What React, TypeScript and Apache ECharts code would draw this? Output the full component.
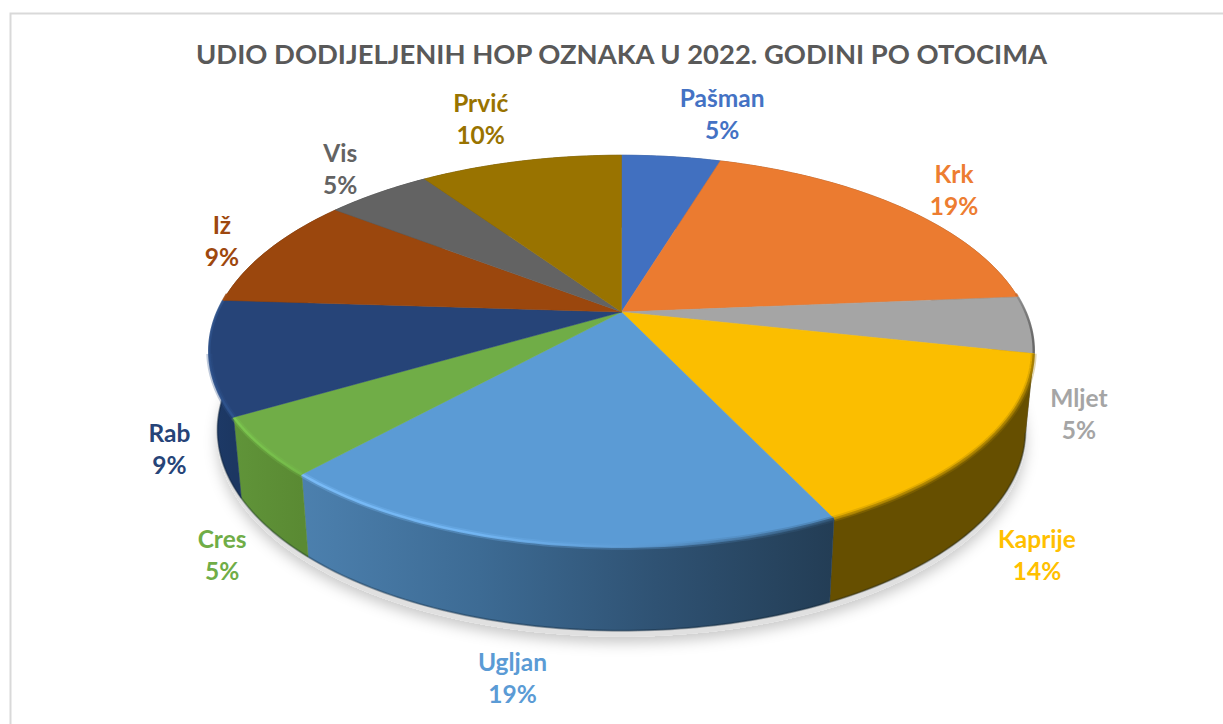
import React, { useEffect, useRef } from "react";
import * as echarts from "echarts";

const titleText = "UDIO DODIJELJENIH HOP OZNAKA U 2022. GODINI PO OTOCIMA";
const islands = ["Pašman", "Krk", "Mljet", "Kaprije", "Ugljan", "Cres", "Rab", "Iž", "Vis", "Prvić"];
const shares = [4.7, 19.0, 4.7, 14.5, 18.9, 4.8, 9.4, 9.4, 5.0, 9.6];
const topColors = ["#4170c0", "#eb7b30", "#a5a5a5", "#fbbe00", "#5b9bd5", "#70ad47", "#264478", "#9b470d", "#636363", "#997300"];
const labelColors = ["#4472c4", "#ed7d31", "#a5a5a5", "#ffc000", "#5b9bd5", "#70ad47", "#264478", "#9e480e", "#636363", "#997300"];
const wallStops: string[][] = [
  ["#2a4a80", "#2a4a80"],
  ["#8a4a1d", "#8a4a1d"],
  ["#6a6a6a", "#5a5a5a"],
  ["#664f00", "#664f00"],
  ["#4c80ae", "#3d6b94", "#2f5273", "#233d55"],
  ["#609439", "#5a8a33"],
  ["#1d3a68", "#1c3762"],
  ["#5e2b08", "#5e2b08"],
  ["#3a3a3a", "#3a3a3a"],
  ["#5a4400", "#5a4400"],
];
const rimStops: string[][] = [
  ["#4170c0", "#4170c0"],
  ["#e07630", "#c96a2a"],
  ["#8a8a8a", "#5e5e5e"],
  ["#b08600", "#a07a00"],
  ["#7cbffc", "#74b8f6", "#5a97cf", "#2f5272"],
  ["#7ecb50", "#74bb49"],
  ["#2c4f88", "#2f5590"],
  ["#a04a0f", "#a04a0f"],
  ["#686868", "#686868"],
  ["#997300", "#997300"],
];
const labelOffsets: number[][] = [
  [51, -43], [53, -18], [49, 89], [54, 109], [-35, 134],
  [-40, 108], [-40, 91], [-46, -10], [-38, -24], [-40, -43],
];

const total = shares.reduce((a, b) => a + b, 0);
const starts: number[] = [];
shares.reduce((acc, v, i) => {
  starts[i] = acc;
  return acc + v;
}, 0);
const toAngle = (v: number) => (v / total) * Math.PI * 2;

const CX = 621.5;
const CY = 312;
const RX = 404;
const RY = 188;
const PERSP = 0.199;
const X_SHRINK = 0.98;

function rimPoint(theta: number): number[] {
  const u = Math.sin(theta);
  const v = -Math.cos(theta);
  const w = 1 - PERSP * v;
  return [CX + (RX * u) / w, CY + (RY * v) / w];
}
function basePoint(theta: number): number[] {
  const p = rimPoint(theta);
  const v = -Math.cos(theta);
  return [CX + (p[0] - CX) * X_SHRINK, p[1] + 78 + 6 * v];
}
function arc(i: number, fn: (t: number) => number[], minV = -2): number[][] {
  const a0 = toAngle(starts[i]);
  const a1 = toAngle(starts[i] + shares[i]);
  const n = Math.max(4, Math.ceil(((a1 - a0) * 180) / Math.PI));
  const pts: number[][] = [];
  for (let k = 0; k <= n; k++) {
    const t = a0 + ((a1 - a0) * k) / n;
    if (-Math.cos(t) >= minV) pts.push(fn(t));
  }
  return pts;
}
function hGrad(pts: number[][], colors: string[]) {
  const xs = pts.map((p) => p[0]);
  const x0 = Math.min(...xs);
  const x1 = Math.max(...xs);
  return new echarts.graphic.LinearGradient(
    x0, 0, Math.max(x1, x0 + 1), 0,
    colors.map((color, k) => ({ offset: k / (colors.length - 1), color })),
    true
  );
}

const renderShadow = (params: any) => {
  if (params.dataIndex !== 0) return { type: "group", children: [] };
  const pts: number[][] = [];
  for (let k = 0; k < 180; k++) {
    const p = basePoint((k / 180) * Math.PI * 2);
    pts.push([p[0], p[1] + 6]);
  }
  return {
    type: "polygon",
    shape: { points: pts },
    style: { fill: "#e0e0e0", shadowBlur: 14, shadowColor: "rgba(0,0,0,0.22)", shadowOffsetY: 6 },
  };
};

const renderWall = (params: any) => {
  const i = params.dataIndex;
  const top = arc(i, rimPoint);
  const bottom = arc(i, basePoint);
  const fill = hGrad(top, wallStops[i]);
  const visibleFront = -Math.cos(toAngle(starts[i] + shares[i] / 2)) > 0;
  return {
    type: "group",
    children: [
      {
        type: "polygon",
        shape: { points: [...top, ...bottom.slice().reverse()] },
        style: { fill, stroke: fill, lineWidth: 0.5 },
      },
      ...(visibleFront
        ? [{
            type: "polyline",
            shape: { points: bottom },
            style: { fill: "none", stroke: "rgba(10,25,40,0.3)", lineWidth: 2 },
          }]
        : []),
    ],
  };
};

const renderTop = (params: any) => {
  const i = params.dataIndex;
  const top = arc(i, rimPoint);
  const rim = hGrad(top, rimStops[i]);
  const thick = arc(i, rimPoint, 0.2);
  const thin = arc(i, rimPoint, -0.1);
  const children: any[] = [
    {
      type: "polygon",
      shape: { points: [[CX, CY], ...top] },
      style: { fill: topColors[i], stroke: topColors[i], lineWidth: 0.5 },
    },
  ];
  if (thick.length > 1) {
    children.push({
      type: "polyline",
      shape: { points: thick },
      style: { fill: "none", stroke: rim, lineWidth: 6, opacity: 0.3 },
    });
  }
  if (thin.length > 1) {
    children.push({
      type: "polyline",
      shape: { points: thin },
      style: { fill: "none", stroke: rim, lineWidth: 2.5, opacity: 0.85 },
    });
  }
  return { type: "group", children };
};

const renderLabel = (params: any) => {
  const i = params.dataIndex;
  const anchor = rimPoint(toAngle(starts[i] + shares[i] / 2));
  return {
    type: "text",
    x: anchor[0] + labelOffsets[i][0],
    y: anchor[1] + labelOffsets[i][1],
    style: {
      text: `${islands[i]}\n${Math.round((shares[i] / total) * 100)}%`,
      fontFamily: "Lato",
      fontWeight: "bold",
      fontSize: 24.5,
      lineHeight: 32,
      align: "center",
      verticalAlign: "middle",
      fill: labelColors[i],
    },
  };
};

export default function App() {
  const ref = useRef<HTMLDivElement>(null);
  useEffect(() => {
    document.body.style.margin = "0";
    document.body.style.overflow = "hidden";
    const chart = echarts.init(ref.current!, undefined, { renderer: "svg" });
    const base = { type: "custom", coordinateSystem: "none", silent: true, data: shares };
    chart.setOption({
      animation: false,
      backgroundColor: "#ffffff",
      title: {
        text: titleText,
        left: 616.5,
        top: 35,
        textAlign: "center",
        textStyle: { fontFamily: "Lato", fontWeight: "bold", fontSize: 27.4, color: "#595959" },
      },
      graphic: [
        {
          type: "rect",
          shape: { x: 10.5, y: 13.5, width: 1400, height: 900 },
          style: { fill: "none", stroke: "#d9d9d9", lineWidth: 2 },
          silent: true,
        },
      ],
      series: [
        { ...base, z: 1, renderItem: renderShadow },
        { ...base, z: 2, renderItem: renderWall },
        { ...base, z: 3, renderItem: renderTop },
        { ...base, z: 4, renderItem: renderLabel },
      ],
    });
    return () => chart.dispose();
  }, []);
  return <div ref={ref} style={{ width: 1223, height: 724 }} />;
}
